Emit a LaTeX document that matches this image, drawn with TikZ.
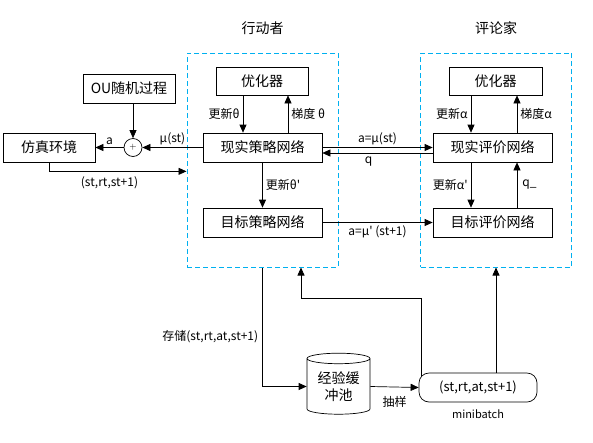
\documentclass[tikz,border=0pt]{standalone}
\usepackage{fontspec}
\setmainfont{Noto Sans CJK SC}
\usetikzlibrary{arrows.meta, positioning, shapes.geometric, calc}
\definecolor{groupblue}{RGB}{0, 176, 240}

\tikzset{
    arr/.style={-{Triangle[length=8pt, width=7pt]}, line width=0.7pt},
    net/.style={draw, line width=0.7pt, minimum width=119, minimum height=29, inner sep=0pt, font=\fontsize{14}{16}\selectfont},
    group/.style={draw=groupblue, dash pattern=on 5pt off 3pt, line width=1pt, minimum width=151, minimum height=214},
    lbl/.style={font=\fontsize{12}{14}\selectfont, inner sep=1pt},
    title/.style={font=\fontsize{14}{16}\selectfont}
}

\begin{document}
\begin{tikzpicture}[x=1pt, y=-1pt]
        \useasboundingbox (0,0) rectangle (593,442);

        % Actor group
        \node[group] (actor) at (262.5,160) {};
        \node[title, above=14pt of actor] (actortitle) {行动者};
        \node[net, minimum width=92, minimum height=28] (actopt) at (262,81) {优化器};
        \node[net] (actnow) at (262.5,147.5) {现实策略网络};
        \node[net] (acttgt) at (262.5,222.5) {目标策略网络};

        \draw[arr] ([xshift=-19pt]actopt.south) -- ([xshift=-19.5pt]actnow.north) node[lbl, midway, left=2pt] {更新θ};
        \draw[arr] ([xshift=25.5pt]actnow.north) -- ([xshift=26pt]actopt.south) node[lbl, midway, right=2pt] {梯度 θ};
        \draw[arr] (actnow.south) -- (acttgt.north) node[lbl, midway, right=2pt] {更新θ\textquotesingle};

        % Critic group
        \node[group] (critic) at (496,160) {};
        \node[title, above=14pt of critic] (critictitle) {评论家};
        \node[net, minimum width=93, minimum height=28] (criopt) at (495.5,81) {优化器};
        \node[net] (crinow) at (492.5,147.5) {现实评价网络};
        \node[net] (critgt) at (492.5,222.5) {目标评价网络};

        \draw[arr] ([xshift=-24.5pt]criopt.south) -- ([xshift=-21.5pt]crinow.north) node[lbl, midway, left=2pt] {更新α};
        \draw[arr] ([xshift=24.5pt]crinow.north) -- ([xshift=21.5pt]criopt.south) node[lbl, midway, right=2pt] {梯度α};
        \draw[arr] ([xshift=-21.5pt]crinow.south) -- ([xshift=-21.5pt]critgt.north) node[lbl, midway, left=2pt] {更新α\textquotesingle};
        \draw[arr] ([xshift=24.5pt]critgt.north) -- ([xshift=24.5pt]crinow.south) node[lbl, midway, right=4pt] {q\_};

        % Actor <-> Critic
        \draw[arr] (actnow.east) -- (crinow.west) node[lbl, midway, above=1pt] {a=μ(st)};
        \draw[arr] ([yshift=-5.5pt]crinow.west) -- ([yshift=-5.5pt]actnow.east) node[lbl, pos=0.58, below=2pt] {q};
        \draw[arr] (acttgt.east) -- (critgt.west) node[lbl, midway, below=2pt] {a=μ\textquotesingle{} (st+1)};

        % Environment and noise
        \node[net, minimum width=92] (simenv) at (49,147.5) {仿真环境};
        \node[net, minimum width=92] (ounoise) at (129,88.5) {OU随机过程};
        \node[circle, draw, line width=0.7pt, minimum size=18, inner sep=0pt, font=\small] (sum) at (133,147.5) {$+$};

        \draw[arr] (ounoise.south -| sum.north) -- (sum.north);
        \draw[arr] (actnow.west) -- (sum.east) node[lbl, midway, above=1pt] {μ(st)};
        \draw[arr] (sum.west) -- (simenv.east) node[lbl, midway, above=1pt] {a};
        \draw[arr] (simenv.south) |- ($(actor.west |- simenv.south)+(0,9)$) node[lbl, pos=0.72, below=4pt] {(st,rt,st+1)};

        % Replay buffer and minibatch
        \node[cylinder, draw, line width=0.7pt, shape border rotate=90, aspect=0.25, minimum width=63, minimum height=61, inner sep=0pt, align=center, font=\fontsize{14}{17}\selectfont] (buffer) at (338.5,386.5) {经验缓\\冲池};
        \node[draw, line width=0.7pt, rounded corners=10pt, minimum width=118, minimum height=29, font=\fontsize{13}{15}\selectfont] (minibatch) at (478,387.5) {(st,rt,at,st+1)};
        \node[lbl, font=\fontsize{11}{13}\selectfont, below=6pt of minibatch] (mblabel) {minibatch};

        \draw[arr] (actor.south) |- (buffer.west) node[lbl, pos=0.29, left=3pt] {存储(st,rt,at,st+1)};
        \draw[arr] (buffer.east) -- (minibatch.west) node[lbl, midway, below=8pt] {抽样};
        \draw[arr] ([xshift=3pt, yshift=-3pt]minibatch.north west) -- ++(0,-77) -| ([xshift=38.5pt]actor.south);
        \draw[arr] (critic.south |- minibatch.north) -- (critic.south);
\end{tikzpicture}
\end{document}
